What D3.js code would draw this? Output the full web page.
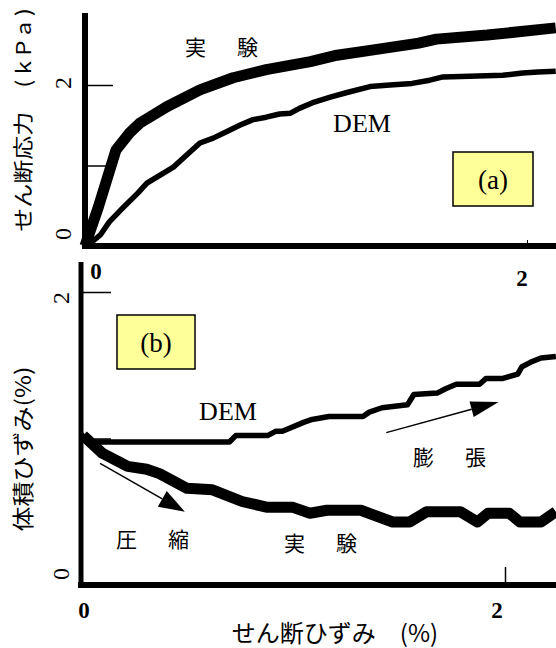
<!DOCTYPE html>
<html><head><meta charset="utf-8">
<script src="https://cdn.jsdelivr.net/npm/d3@7/dist/d3.min.js"></script>
<style>body{margin:0;background:#fff}svg{display:block}</style>
</head><body>
<svg id="c" width="556" height="648"></svg>
<script>
// ---- data: panel (a) shear stress (kPa) vs shear strain (%)
const stressExpX = [0, 0.06, 0.14, 0.20, 0.25, 0.37, 0.52, 0.67, 0.82, 1.02, 1.14, 1.29, 1.51, 1.59, 1.82, 2.13];
const stressExpY = [0, 0.48, 1.19, 1.40, 1.53, 1.73, 1.94, 2.09, 2.19, 2.29, 2.37, 2.43, 2.52, 2.57, 2.62, 2.71];
const stressDemX = [0.01, 0.07, 0.11, 0.17, 0.24, 0.28, 0.34, 0.40, 0.46, 0.52, 0.58, 0.64, 0.70, 0.76, 0.82, 0.88, 0.93, 0.97, 1.03, 1.11, 1.19, 1.29, 1.38, 1.48, 1.56, 1.62, 1.74, 1.89, 1.98, 2.05, 2.13];
const stressDemY = [0, 0.14, 0.30, 0.47, 0.66, 0.78, 0.88, 0.98, 1.13, 1.28, 1.34, 1.42, 1.50, 1.57, 1.60, 1.64, 1.65, 1.71, 1.78, 1.85, 1.91, 1.98, 2.00, 2.02, 2.06, 2.10, 2.11, 2.12, 2.15, 2.16, 2.17];
// ---- data: panel (b) volumetric strain (%) vs shear strain (%)
const volExpX = [0.01, 0.10, 0.22, 0.31, 0.37, 0.50, 0.62, 0.76, 0.88, 1.00, 1.08, 1.16, 1.32, 1.47, 1.55, 1.63, 1.79, 1.87, 1.92, 2.02, 2.07, 2.17, 2.24];
const volExpY = [1.02, 0.90, 0.81, 0.79, 0.76, 0.66, 0.65, 0.57, 0.53, 0.53, 0.49, 0.51, 0.51, 0.43, 0.43, 0.50, 0.50, 0.43, 0.49, 0.49, 0.43, 0.43, 0.50];
const volDemX = [0, 0.033, 0.70, 0.73, 0.88, 0.92, 0.95, 1.05, 1.09, 1.17, 1.33, 1.36, 1.42, 1.54, 1.57, 1.68, 1.72, 1.77, 1.88, 1.91, 1.99, 2.06, 2.08, 2.12, 2.17, 2.24];
const volDemY = [1.03, 0.976, 0.976, 1.02, 1.02, 1.05, 1.05, 1.11, 1.13, 1.15, 1.15, 1.18, 1.21, 1.23, 1.30, 1.31, 1.34, 1.37, 1.37, 1.41, 1.41, 1.44, 1.49, 1.52, 1.55, 1.56];
// ---- ticks / labels
const tickMarksY = [1, 2];
const tickMarksX = [2];
const tickLabelVals = [0, 2];
const tickLabels = ["0", "2"];

const svg = d3.select("#c");
const JP = "'Noto Sans CJK JP','Noto Sans',sans-serif";
const SERIF = "'Liberation Serif','DejaVu Serif',serif";

// scales
const xA = d3.scaleLinear().domain([0, 2]).range([85, 527]);
const yA = d3.scaleLinear().domain([0, 2]).range([246, 85]);
const xB = d3.scaleLinear().domain([0, 2]).range([81, 505]);
const yB = d3.scaleLinear().domain([0, 2]).range([585, 292]);

function zip(xs, ys) { return xs.map((x, i) => [x, ys[i]]); }

// ---------- Panel (a)
const gA = svg.append("g");
gA.append("g").attr("transform", `translate(${xA(0)},0)`)
  .call(d3.axisRight(yA).tickValues(tickMarksY).tickSize(28).tickFormat(""))
  .call(g => g.select(".domain").remove())
  .call(g => g.selectAll("line").attr("stroke-width", 1.5));
gA.append("g").attr("transform", `translate(0,${yA(0)})`)
  .call(d3.axisTop(xA).tickValues(tickMarksX).tickSize(6).tickFormat(""))
  .call(g => g.select(".domain").remove());

const lineA = d3.line().x(d => xA(d[0])).y(d => yA(d[1]));
gA.append("path").datum(zip(stressDemX, stressDemY)).attr("d", lineA)
  .attr("fill", "none").attr("stroke", "#000").attr("stroke-width", 5.5).attr("stroke-linejoin", "round");
gA.append("path").datum(zip(stressExpX, stressExpY)).attr("d", lineA)
  .attr("fill", "none").attr("stroke", "#000").attr("stroke-width", 11).attr("stroke-linejoin", "round");

gA.append("line").attr("x1", xA(0)).attr("x2", xA(0)).attr("y1", 13).attr("y2", yA(0) + 3)
  .attr("stroke", "#000").attr("stroke-width", 6);
gA.append("line").attr("x1", xA(0) - 3).attr("x2", 556).attr("y1", yA(0)).attr("y2", yA(0))
  .attr("stroke", "#000").attr("stroke-width", 6);

tickLabelVals.forEach((v, i) => {
  gA.append("text").attr("transform", `translate(${xA(0) - 22},${yA(v) - (v === 0 ? 12 : 2)}) rotate(-90)`)
    .attr("text-anchor", "middle").attr("dominant-baseline", "central")
    .style("font-family", SERIF).style("font-size", "24px").text(tickLabels[i]);
});
gA.append("text").attr("x", xA(0) + 11).attr("y", yA(0) + 33).attr("text-anchor", "middle")
  .style("font-family", SERIF).style("font-size", "23px").style("font-weight", "bold").text(tickLabels[0]);
gA.append("text").attr("x", xA(2) - 5).attr("y", yA(0) + 40).attr("text-anchor", "middle")
  .style("font-family", SERIF).style("font-size", "23px").style("font-weight", "bold").text(tickLabels[1]);

gA.append("text").attr("x", 224).attr("y", 55).attr("text-anchor", "middle")
  .style("font-family", JP).style("font-size", "21px").style("letter-spacing", "5px").text("実　験");
gA.append("text").attr("x", 362).attr("y", 132).attr("text-anchor", "middle")
  .style("font-family", SERIF).style("font-size", "26px").text("DEM");
gA.append("rect").attr("x", 453).attr("y", 152).attr("width", 80).attr("height", 54)
  .attr("fill", "#ffff99").attr("stroke", "#000").attr("stroke-width", 1.5);
gA.append("text").attr("x", 493).attr("y", 189).attr("text-anchor", "middle")
  .style("font-family", SERIF).style("font-size", "27px").text("(a)");

gA.append("text").attr("transform", "translate(31,120) rotate(-90) scale(1,0.85)").attr("text-anchor", "middle")
  .style("font-family", JP).style("font-size", "24px").text("せん断応力　( k P a )");

// ---------- Panel (b)
const gB = svg.append("g");
gB.append("g").attr("transform", `translate(${xB(0)},0)`)
  .call(d3.axisRight(yB).tickValues(tickMarksY).tickSize(30).tickFormat(""))
  .call(g => g.select(".domain").remove())
  .call(g => g.selectAll("line").attr("stroke-width", 1.5));
gB.append("g").attr("transform", `translate(0,${yB(0)})`)
  .call(d3.axisTop(xB).tickValues(tickMarksX).tickSize(18).tickFormat(""))
  .call(g => g.select(".domain").remove())
  .call(g => g.selectAll("line").attr("stroke-width", 1.5));

const lineB = d3.line().x(d => xB(d[0])).y(d => yB(d[1]));
gB.append("path").datum(zip(volDemX, volDemY)).attr("d", lineB)
  .attr("fill", "none").attr("stroke", "#000").attr("stroke-width", 5.5).attr("stroke-linejoin", "round");
gB.append("path").datum(zip(volExpX, volExpY)).attr("d", lineB)
  .attr("fill", "none").attr("stroke", "#000").attr("stroke-width", 11).attr("stroke-linejoin", "round");

gB.append("line").attr("x1", xB(0)).attr("x2", xB(0)).attr("y1", 262).attr("y2", yB(0) + 3)
  .attr("stroke", "#000").attr("stroke-width", 5);
gB.append("line").attr("x1", xB(0) - 3).attr("x2", 556).attr("y1", yB(0)).attr("y2", yB(0))
  .attr("stroke", "#000").attr("stroke-width", 6);

tickLabelVals.forEach((v, i) => {
  gB.append("text").attr("transform", `translate(${xB(0) - 20},${yB(v) + (v === 0 ? -11 : 6)}) rotate(-90)`)
    .attr("text-anchor", "middle").attr("dominant-baseline", "central")
    .style("font-family", SERIF).style("font-size", "24px").text(tickLabels[i]);
});
gB.append("text").attr("x", xB(0) + 3).attr("y", yB(0) + 33).attr("text-anchor", "middle")
  .style("font-family", SERIF).style("font-size", "23px").style("font-weight", "bold").text(tickLabels[0]);
gB.append("text").attr("x", xB(2) - 8).attr("y", yB(0) + 33).attr("text-anchor", "middle")
  .style("font-family", SERIF).style("font-size", "23px").style("font-weight", "bold").text(tickLabels[1]);

function arrow(g, x1, y1, x2, y2, headLen, headW) {
  const dx = x2 - x1, dy = y2 - y1, L = Math.hypot(dx, dy);
  const ux = dx / L, uy = dy / L;
  const bx = x2 - ux * headLen, by = y2 - uy * headLen;
  g.append("line").attr("x1", x1).attr("y1", y1).attr("x2", bx).attr("y2", by)
    .attr("stroke", "#000").attr("stroke-width", 1.5);
  g.append("polygon").attr("points",
    `${x2},${y2} ${bx - uy * headW / 2},${by + ux * headW / 2} ${bx + uy * headW / 2},${by - ux * headW / 2}`)
    .attr("fill", "#000");
}
arrow(gB, xB(0.09), yB(0.83), xB(0.49), yB(0.50), 26, 18);
arrow(gB, xB(1.44), yB(1.04), xB(1.97), yB(1.25), 28, 16);

gB.append("rect").attr("x", 117).attr("y", 315).attr("width", 78).attr("height", 54)
  .attr("fill", "#ffff99").attr("stroke", "#000").attr("stroke-width", 1.5);
gB.append("text").attr("x", 156).attr("y", 352).attr("text-anchor", "middle")
  .style("font-family", SERIF).style("font-size", "27px").text("(b)");
gB.append("text").attr("x", 228).attr("y", 420).attr("text-anchor", "middle")
  .style("font-family", SERIF).style("font-size", "26px").text("DEM");
gB.append("text").attr("x", 452).attr("y", 465).attr("text-anchor", "middle")
  .style("font-family", JP).style("font-size", "21px").style("letter-spacing", "5px").text("膨　張");
gB.append("text").attr("x", 155).attr("y", 547).attr("text-anchor", "middle")
  .style("font-family", JP).style("font-size", "21px").style("letter-spacing", "5px").text("圧　縮");
gB.append("text").attr("x", 323).attr("y", 551).attr("text-anchor", "middle")
  .style("font-family", JP).style("font-size", "21px").style("letter-spacing", "5px").text("実　験");

gB.append("text").attr("transform", "translate(31,449) rotate(-90) scale(1,0.85)").attr("text-anchor", "middle")
  .style("font-family", JP).style("font-size", "25px").text("体積ひずみ(%)");

svg.append("text").attr("x", 335).attr("y", 642).attr("text-anchor", "middle")
  .style("font-family", JP).style("font-size", "24px").text("せん断ひずみ　(%)");
</script>
</body></html>
